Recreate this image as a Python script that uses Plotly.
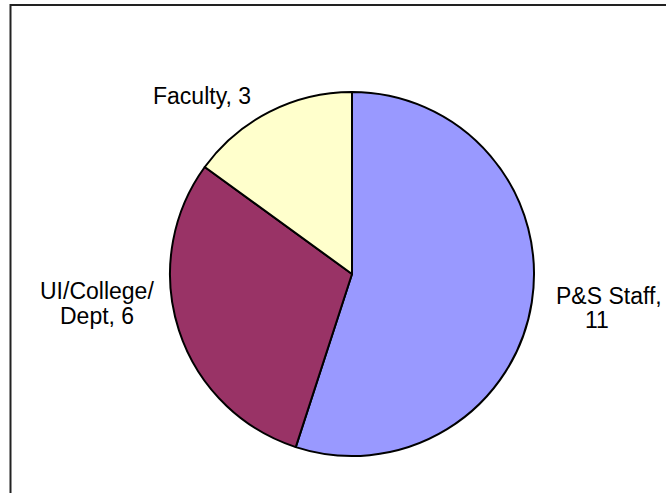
import plotly.graph_objects as go

# ---- data ----
categories = ["P&S Staff", "UI/College/Dept", "Faculty"]
values = [11, 6, 3]
colors = ["#9999FF", "#993366", "#FFFFCC"]

W, H = 666, 493

def px(x):
    return x / W

def py(y):
    return 1 - y / H

# label lines built from data (wrapped as in the reference)
label_lines = [
    [f"{categories[0]},", f"{values[0]}"],
    ["UI/College/", f"Dept, {values[1]}"],
    [f"{categories[2]}, {values[2]}"],
]
# pixel centres for each line
label_pos = [
    [(609, 296), (597, 320)],
    [(97, 291), (97, 316)],
    [(202, 96)],
]

fig = go.Figure(
    go.Pie(
        labels=categories,
        values=values,
        sort=False,
        direction="clockwise",
        rotation=0,
        marker=dict(colors=colors, line=dict(color="black", width=2)),
        textinfo="none",
        hoverinfo="label+value",
        showlegend=False,
        domain=dict(x=[170 / W, 534 / W], y=[(219 - 182) / H, (219 + 182) / H]),
    )
)

annotations = []
for lines, poss in zip(label_lines, label_pos):
    for text, (x, y) in zip(lines, poss):
        annotations.append(
            dict(
                x=px(x), y=py(y), xref="paper", yref="paper",
                text=text, showarrow=False,
                xanchor="center", yanchor="middle",
                font=dict(family="Liberation Sans, Arial, sans-serif", size=23, color="black"),
            )
        )

fig.update_layout(
    width=W, height=H,
    margin=dict(l=0, r=0, t=0, b=0),
    paper_bgcolor="white",
    plot_bgcolor="white",
    annotations=annotations,
    shapes=[
        dict(
            type="rect", xref="paper", yref="paper",
            x0=px(10.5), x1=1.2, y0=-0.2, y1=py(5),
            line=dict(color="#222222", width=2),
            fillcolor="rgba(0,0,0,0)",
            layer="below",
        )
    ],
)

fig.write_html(
    "out.html",
    config={"displayModeBar": False},
    post_script="document.body.style.margin='0';document.body.style.overflow='hidden';",
)
